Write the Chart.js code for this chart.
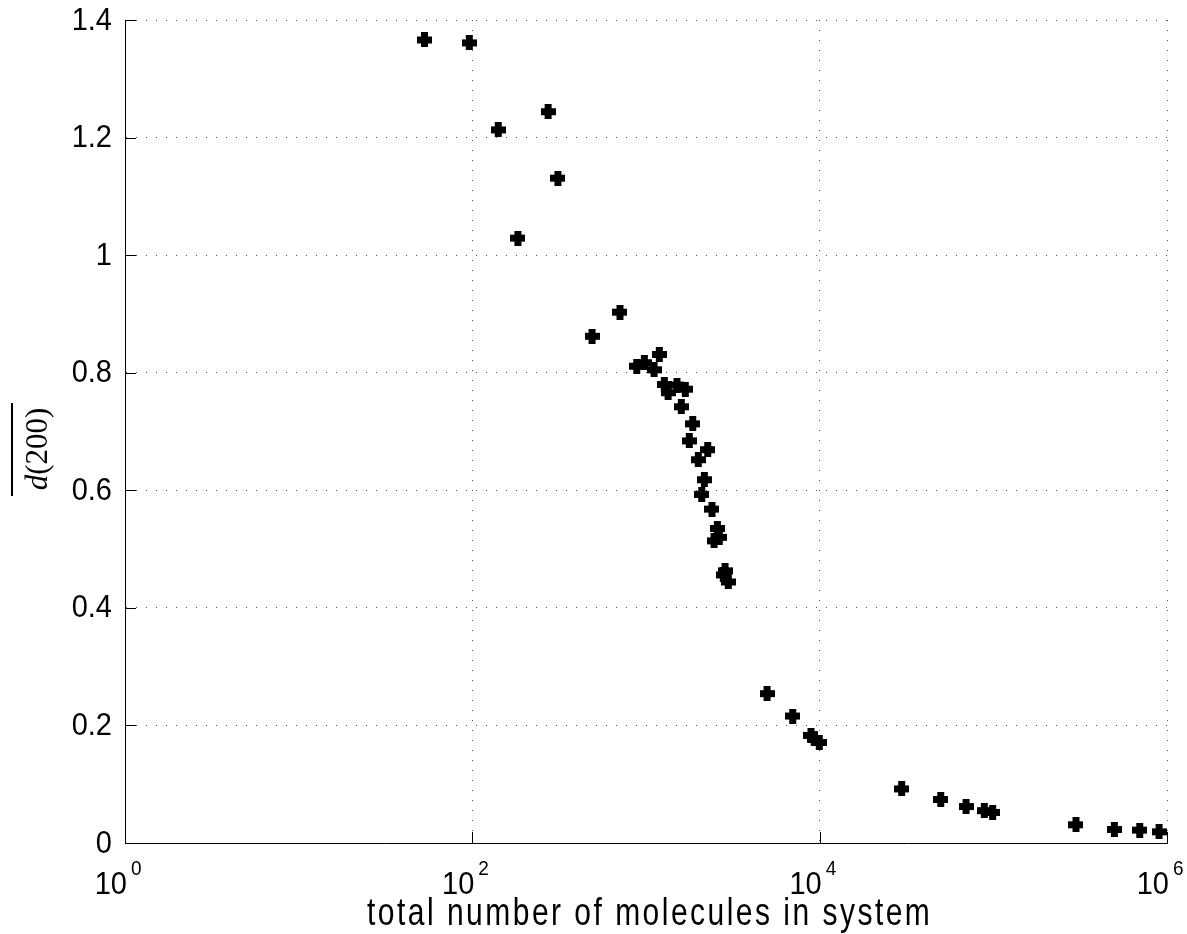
<!DOCTYPE html>
<html>
<head>
<meta charset="utf-8">
<script src="https://cdn.jsdelivr.net/npm/chart.js@4"></script>
<style>
  html, body { margin: 0; padding: 0; background: #fff; }
  #chart { display: block; }
</style>
</head>
<body>
<canvas id="chart" width="1187" height="934"></canvas>
<script>
// values
const molecules = [53, 96, 141, 273, 311, 183, 489, 708, 1193, 884, 978, 1112, 1274, 1340, 1508, 1684,
    1597, 1858, 1775, 2266, 2000, 2167, 2093, 2399, 2575, 2643, 2464, 2851, 2787, 2978,
    4975, 6993, 8914, 9300, 9953, 29650, 49770, 69630, 88700, 99140, 299000, 497600, 696400, 899400];
const d200 = [1.366, 1.361, 1.213, 1.244, 1.131, 1.029, 0.862, 0.903, 0.831, 0.811, 0.817, 0.805, 0.780, 0.766, 0.779, 0.772,
    0.742, 0.713, 0.684, 0.669, 0.652, 0.618, 0.593, 0.568, 0.535, 0.520, 0.514, 0.463, 0.456, 0.444,
    0.254, 0.216, 0.183, 0.177, 0.171, 0.092, 0.074, 0.062, 0.055, 0.052, 0.031, 0.023, 0.022, 0.019];
const xTicks = [1, 100, 10000, 1000000];
const xTickExp = ['0', '2', '4', '6'];
const yTicks = [0, 0.2, 0.4, 0.6, 0.8, 1, 1.2, 1.4];
const xTitle = 'total number of molecules in system';

const SANS = '"Liberation Sans", Arial, Helvetica, sans-serif';
const SERIF = '"Liberation Serif", "Times New Roman", serif';

// thick plus marker
const marker = document.createElement('canvas');
marker.width = marker.height = 15;
(() => {
    const c = marker.getContext('2d');
    c.fillStyle = '#000';
    c.fillRect(4, 0, 7, 15);
    c.fillRect(0, 4, 15, 7);
})();

const textPlugin = {
    id: 'matlabText',
    afterDraw(chart) {
        const ctx = chart.ctx;
        const xs = chart.scales.x, ys = chart.scales.y;
        const area = chart.chartArea;
        ctx.save();
        ctx.fillStyle = '#000';
        ctx.strokeStyle = '#000';
        ctx.lineWidth = 1;

        // inward tick marks
        ctx.beginPath();
        yTicks.forEach(v => {
            const py = Math.round(ys.getPixelForValue(v)) + 0.5;
            ctx.moveTo(area.left, py);
            ctx.lineTo(area.left + 11, py);
        });
        xTicks.forEach(v => {
            const px = Math.round(xs.getPixelForValue(v)) + 0.5;
            ctx.moveTo(px, area.bottom);
            ctx.lineTo(px, area.bottom - 11);
        });
        ctx.stroke();

        // y tick labels
        ctx.textAlign = 'right';
        ctx.textBaseline = 'middle';
        yTicks.forEach(v => {
            const py = ys.getPixelForValue(v);
            ctx.save();
            ctx.translate(112, py + 1);
            ctx.scale(1, 1.08);
            ctx.font = '29px ' + SANS;
            ctx.fillText(String(v), 0, 0);
            ctx.restore();
        });

        // x tick labels: 10 with superscript exponent
        ctx.textBaseline = 'alphabetic';
        xTicks.forEach((v, i) => {
            const px = xs.getPixelForValue(v);
            ctx.save();
            ctx.translate(px + 2, 894);
            ctx.scale(1, 1.05);
            ctx.textAlign = 'right';
            ctx.font = '29px ' + SANS;
            ctx.fillText('10', 0, 0);
            ctx.restore();
            ctx.save();
            ctx.translate(px + 6, 875);
            ctx.scale(1, 1.1);
            ctx.textAlign = 'left';
            ctx.font = '19px ' + SANS;
            ctx.fillText(xTickExp[i], 0, 0);
            ctx.restore();
        });

        // x axis title, stretched and spaced like the original
        ctx.save();
        ctx.font = '30px ' + SANS;
        const plain = ctx.measureText(xTitle).width;
        const spacing = (563 - plain) / (xTitle.length - 1);
        ctx.letterSpacing = spacing.toFixed(2) + 'px';
        ctx.translate(367, 925);
        ctx.scale(1, 1.27);
        ctx.textAlign = 'left';
        ctx.fillText(xTitle, 0, 0);
        ctx.restore();

        // y axis title: overline d(200), rotated
        ctx.save();
        ctx.translate(47, 449);
        ctx.rotate(-Math.PI / 2);
        ctx.font = 'italic 31px ' + SERIF;
        const wd = ctx.measureText('d').width;
        ctx.font = '31px ' + SERIF;
        const wp = ctx.measureText('(200)').width;
        const total = wd + wp;
        ctx.textAlign = 'left';
        ctx.textBaseline = 'alphabetic';
        ctx.font = 'italic 31px ' + SERIF;
        ctx.fillText('d', -total / 2, 0);
        ctx.font = '31px ' + SERIF;
        ctx.fillText('(200)', -total / 2 + wd, 0);
        ctx.lineWidth = 2;
        ctx.beginPath();
        ctx.moveTo(-47, -35);
        ctx.lineTo(46, -35);
        ctx.stroke();
        ctx.restore();

        ctx.restore();
    }
};

const gridOpts = { color: '#555', lineWidth: 1, drawTicks: false };
const borderOpts = { display: true, color: '#000', width: 1, dash: [1, 9] };

new Chart(document.getElementById('chart'), {
    type: 'scatter',
    data: {
        datasets: [{
            data: molecules.map((m, i) => ({ x: m, y: d200[i] })),
            pointStyle: marker,
            pointRadius: 7,
            pointHoverRadius: 7,
            backgroundColor: '#000',
            borderColor: '#000'
        }]
    },
    options: {
        responsive: false,
        animation: false,
        events: [],
        layout: { padding: { top: 20, right: 20, left: 0, bottom: 0 } },
        plugins: { legend: { display: false }, tooltip: { enabled: false } },
        scales: {
            x: {
                type: 'logarithmic',
                min: 1,
                max: 1000000,
                afterBuildTicks: s => { s.ticks = xTicks.map(v => ({ value: v })); },
                afterFit: s => { s.height = 91; },
                ticks: { display: false },
                grid: gridOpts,
                border: borderOpts
            },
            y: {
                min: 0,
                max: 1.4,
                afterBuildTicks: s => { s.ticks = yTicks.map(v => ({ value: v })); },
                afterFit: s => { s.width = 125; },
                ticks: { display: false },
                grid: gridOpts,
                border: borderOpts
            }
        }
    },
    plugins: [textPlugin]
});
</script>
</body>
</html>
